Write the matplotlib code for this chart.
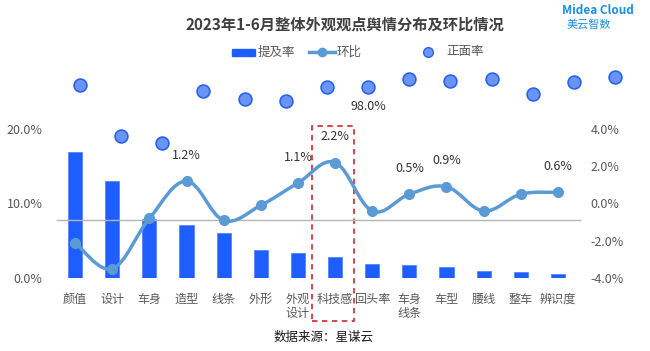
import numpy as np
import matplotlib
matplotlib.use("Agg")
import matplotlib.pyplot as plt
from matplotlib.path import Path
from matplotlib.patches import PathPatch, Rectangle
from matplotlib.lines import Line2D

plt.rcParams['font.family'] = ['Noto Sans CJK SC', 'DejaVu Sans']

# data
categories = ['颜值', '设计', '车身', '造型', '线条', '外形', '外观\n设计', '科技感',
              '回头率', '车身\n线条', '车型', '腰线', '整车', '辨识度']
mention_rate = [16.9, 13.0, 7.9, 7.1, 6.0, 3.8, 3.4, 2.8, 1.9, 1.75, 1.5, 1.0, 0.8, 0.55]
mom_change = [-2.1, -3.5, -0.8, 1.2, -0.9, -0.1, 1.1, 2.2, -0.4, 0.5, 0.9, -0.4, 0.5, 0.6]
mom_labels = {3: '1.2%', 6: '1.1%', 7: '2.2%', 9: '0.5%', 10: '0.9%', 13: '0.6%'}
positive_rate = [98.3, 91.9, 91.0, 97.5, 96.5, 96.3, 98.0, 98.0, 99.0, 98.8, 99.0, 97.2, 98.6, 99.3]

W, H = 650, 351
fig = plt.figure(figsize=(6.5, 3.51), dpi=100)

def fx(px):
    return px / W

def fy(py):
    return 1 - py / H

grey = '#595959'
bar_color = '#1e5eff'
line_color = '#5b9bd5'

# main axes (bars, left axis)
ax = fig.add_axes([fx(56.5), fy(278), fx(520), 149 / H])
x = np.arange(len(categories))
ax.bar(x, mention_rate, width=0.38, color=bar_color, edgecolor='#4a7dff', linewidth=0.5, zorder=2)
ax.set_xlim(-0.5, len(categories) - 0.5)
ax.set_ylim(0, 20)
ax.set_yticks([0, 10, 20])
ax.set_yticklabels(['0.0%', '10.0%', '20.0%'])
ax.set_xticks(x)
ax.set_xticklabels(categories, linespacing=1.05, va='top')
ax.tick_params(axis='y', length=0, labelsize=9, labelcolor=grey, pad=10)
ax.tick_params(axis='x', length=0, labelsize=8.7, labelcolor=grey, pad=11)
for s in ax.spines.values():
    s.set_visible(False)

# right axis (line)
ax2 = ax.twinx()
ax2.set_ylim(-4, 4)
ax2.set_yticks([-4, -2, 0, 2, 4])
ax2.set_yticklabels(['-4.0%', '-2.0%', '0.0%', '2.0%', '4.0%'])
ax2.tick_params(axis='y', length=0, labelsize=9, labelcolor=grey, pad=10)
for s in ax2.spines.values():
    s.set_visible(False)
ax2.plot([-0.5, 13.6], [-0.87, -0.87], color='#b4b4b4', lw=1, zorder=1, clip_on=False)

# smooth curve through the points (cubic bezier, catmull-rom style)
pts = np.column_stack([x, mom_change]).astype(float)
verts = [tuple(pts[0])]
codes = [Path.MOVETO]
k = 0.18
for i in range(len(pts) - 1):
    p0 = pts[i - 1] if i > 0 else pts[i]
    p1 = pts[i]
    p2 = pts[i + 1]
    p3 = pts[i + 2] if i + 2 < len(pts) else pts[i + 1]
    c1 = p1 + (p2 - p0) * k
    c2 = p2 - (p3 - p1) * k
    verts += [tuple(c1), tuple(c2), tuple(p2)]
    codes += [Path.CURVE4] * 3
ax2.add_patch(PathPatch(Path(verts, codes), facecolor='none', edgecolor=line_color, lw=2.5, zorder=3))
ax2.plot(x, mom_change, 'o', color=line_color, ms=7, zorder=4)
for i, lab in mom_labels.items():
    ax2.annotate(lab, (x[i], mom_change[i]), xytext=(0, 14), textcoords='offset points',
                 ha='center', va='bottom', fontsize=9, color='#333333')

# red dashed highlight around 科技感
ax.add_patch(Rectangle((6.37, -5.73), 1.15, 26.17, fill=False, edgecolor='#d9363e',
                       linestyle=(0, (3, 2.5)), lw=1.3, clip_on=False, zorder=5))

# positive rate dots, own axes
ax3 = fig.add_axes([fx(59.4), fy(160), fx(576.2), 100 / H])
ax3.set_xlim(-0.5, len(categories) - 0.5)
ax3.set_ylim(88.91, 101.41)
ax3.axis('off')
ax3.scatter(np.arange(len(positive_rate)), positive_rate, s=85, color='#6b95f5',
            edgecolor='#2a62f0', linewidth=1.2, zorder=4, clip_on=False)
ax3.annotate('98.0%', (7, positive_rate[7]), xytext=(0, -9), textcoords='offset points',
             ha='center', va='top', fontsize=9, color='#333333')

# title
fig.text(fx(345), fy(25), '2023年1-6月整体外观观点舆情分布及环比情况', ha='center', va='center',
         fontsize=11, fontweight='bold', color='#404040')

# legend
fig.patches.append(Rectangle((fx(232), fy(56)), fx(23), 7 / H, color=bar_color, transform=fig.transFigure))
fig.text(fx(258), fy(52), '提及率', ha='left', va='center', fontsize=9, color=grey)
fig.lines.append(Line2D([fx(309), fx(335)], [fy(52), fy(52)], color=line_color, lw=2.5,
                        transform=fig.transFigure))
fig.lines.append(Line2D([fx(322)], [fy(52)], marker='o', ms=6, color=line_color, transform=fig.transFigure))
fig.text(fx(337), fy(52), '环比', ha='left', va='center', fontsize=9, color=grey)
fig.lines.append(Line2D([fx(428)], [fy(52)], marker='o', ms=7, color='#6b95f5', markeredgecolor='#2a62f0',
                        transform=fig.transFigure))
fig.text(fx(446), fy(52), '正面率', ha='left', va='center', fontsize=9, color=grey)

# logo
fig.text(fx(598), fy(10), 'Midea Cloud', ha='center', va='center', fontsize=8.5,
         color='#1b8fe0', fontweight='bold')
fig.text(fx(589), fy(24), '美云智数', ha='center', va='center', fontsize=8, color='#1b8fe0')

# source
fig.text(fx(324), fy(337), '数据来源：星谋云', ha='center', va='center', fontsize=9, color='#1a1a1a')

fig.savefig('out.png', dpi=100)
